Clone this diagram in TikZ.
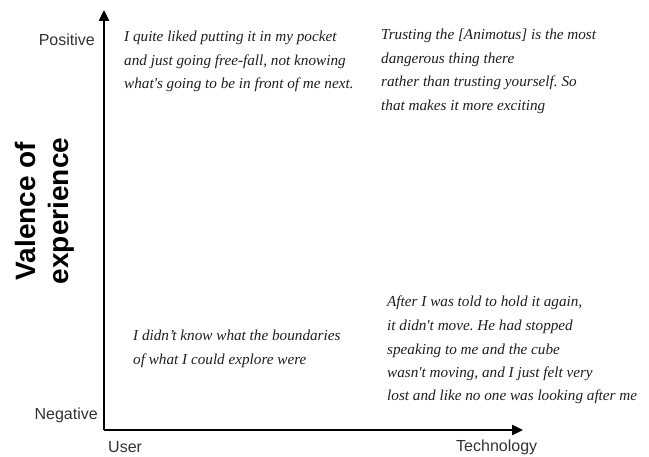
\documentclass[tikz,border=0pt]{standalone}
\usepackage{fontspec}
\setmainfont{Liberation Serif}
\setsansfont{Liberation Sans}
\usetikzlibrary{arrows.meta}
\frenchspacing
\begin{document}
\begin{tikzpicture}[x=1pt,y=-1pt,
  axisline/.style={line width=2.4pt,-{Triangle[length=11pt,width=10pt]}},
  quote/.style={anchor=base west,align=left,inner sep=0pt,text=black!88,
    font=\fontsize{15.2}{23.5}\selectfont\itshape\frenchspacing},
  tick/.style={inner sep=0pt,text=black!80,font=\fontsize{16}{18}\selectfont\sffamily},
  title/.style={inner sep=0pt,align=center,rotate=90,
    font=\fontsize{28}{33}\selectfont\sffamily\bfseries}]
\useasboundingbox (0,0) rectangle (649,457);
\coordinate (origin) at (104,430);
\coordinate (ytip) at (104,10);
\coordinate (xtip) at (523,430);
\draw[axisline] (origin) -- (ytip);
\draw[axisline] (origin.center) -- (xtip);
\node[tick,anchor=east] (pos) at (95,40) {Positive};
\node[tick,anchor=east] (neg) at (98,415) {Negative};
\node[tick,anchor=west] (user) at (108,447) {User};
\node[tick,anchor=west] (tech) at (456,447) {Technology};
\node[title] (val) at (45,211) {Valence of\\experience};
\node[quote] (q1) at (124,89) {I quite liked putting it in my pocket\\and just going free-fall, not knowing\\what\textquotesingle s going to be in front of me next.};
\node[quote] (q2) at (381,110.5) {Trusting the [Animotus] is the most\\dangerous thing there\\rather than trusting yourself. So\\that makes it more exciting};
\node[quote] (q3) at (133,364.5) {I didn’t know what the boundaries\\of what I could explore were};
\node[quote] (q4) at (387,401) {After I was told to hold it again,\\it didn\textquotesingle t move. He had stopped\\speaking to me and the cube\\wasn\textquotesingle t moving, and I just felt very\\lost and like no one was looking after me};
\end{tikzpicture}
\end{document}
